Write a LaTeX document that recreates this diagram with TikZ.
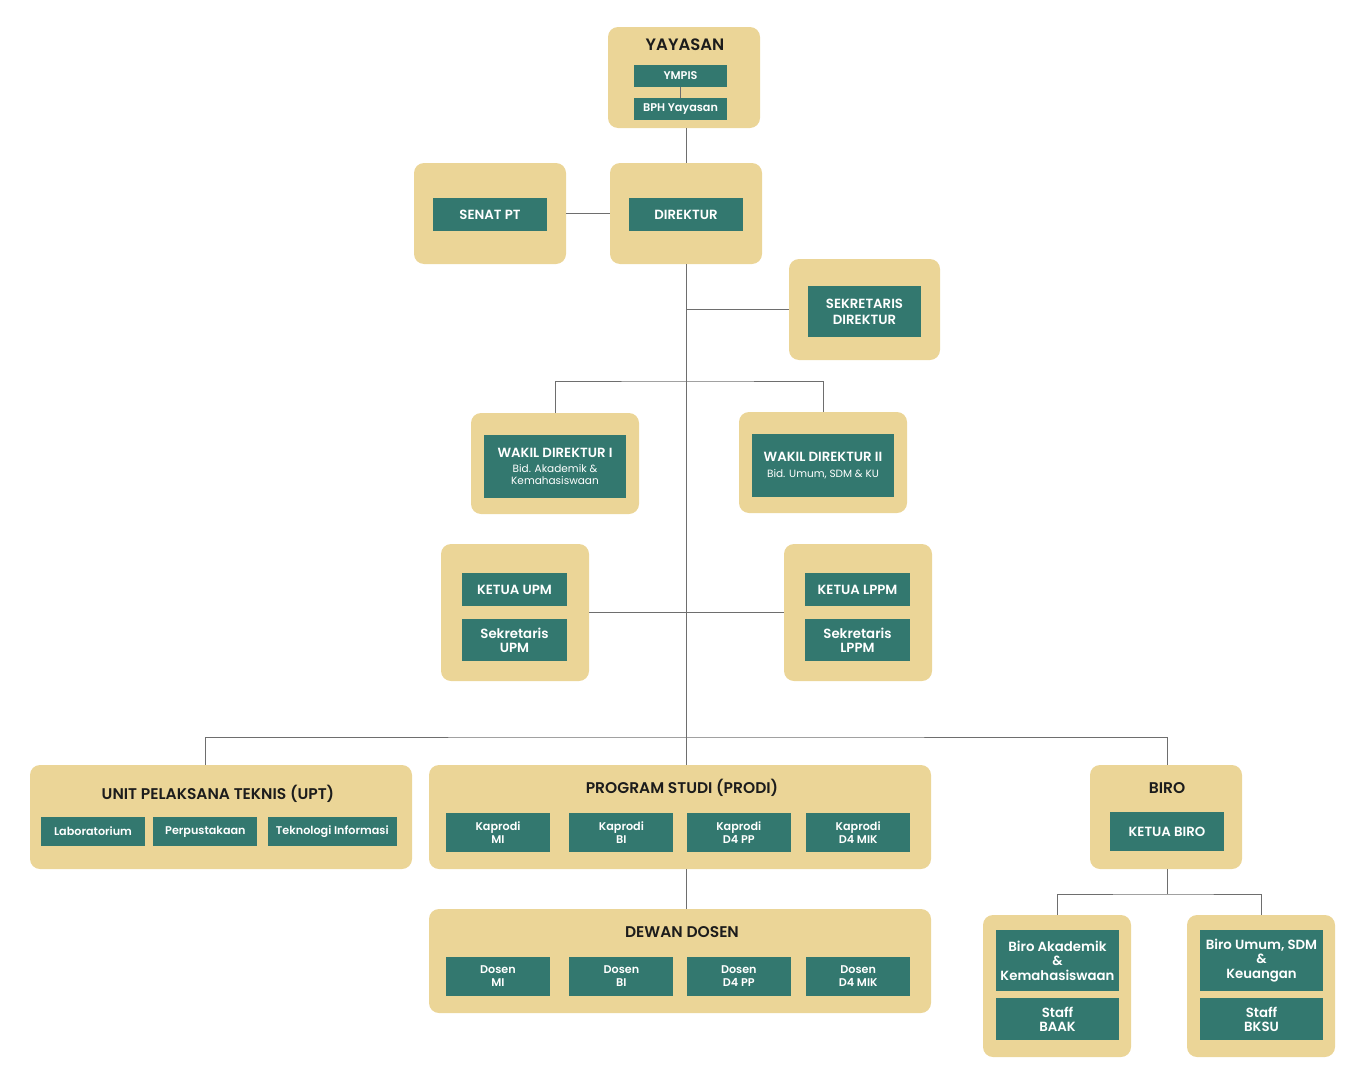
\documentclass[tikz,border=0pt]{standalone}
\usepackage{fontspec}
\setmainfont{Poppins}[BoldFont={Poppins SemiBold}]
\usetikzlibrary{positioning}

\definecolor{panelcol}{HTML}{EBD597}
\definecolor{boxcol}{HTML}{33786F}
\definecolor{linecol}{HTML}{6E6E6E}
\definecolor{titlecol}{HTML}{1C1C1C}

\begin{document}
\begin{tikzpicture}
    [x=1pt, y=1pt,
     panel/.style={rectangle, rounded corners=10pt, fill=panelcol, inner sep=0pt},
     unit/.style={rectangle, fill=boxcol, text=white, inner sep=0pt, align=center,
                  font=\bfseries\fontsize{13.3}{14.5}\selectfont},
     sm/.style={font=\bfseries\fontsize{11.2}{13}\selectfont},
     ttl/.style={text=titlecol, font=\bfseries\fontsize{15.5}{17}\selectfont},
     link/.style={draw=linecol, line width=0.9pt}]

    \useasboundingbox (0,0) rectangle (1366,-1084);

    % panels
    \node [panel, minimum width=152pt, minimum height=101pt] (yay) at (684,-77.5) {};
    \node [panel, minimum width=152pt, minimum height=101pt] (senat) at (490,-213.5) {};
    \node [panel, minimum width=152pt, minimum height=101pt] (dir) at (686,-213.5) {};
    \node [panel, minimum width=151pt, minimum height=101pt] (sek) at (864.5,-309.5) {};
    \node [panel, minimum width=168pt, minimum height=101pt] (wd1) at (555,-463.5) {};
    \node [panel, minimum width=168pt, minimum height=101pt] (wd2) at (823,-462.5) {};
    \node [panel, minimum width=148pt, minimum height=137pt] (upm) at (515,-612.5) {};
    \node [panel, minimum width=148pt, minimum height=137pt] (lppm) at (858,-612.5) {};
    \node [panel, minimum width=382pt, minimum height=104pt] (upt) at (221,-817) {};
    \node [panel, minimum width=502pt, minimum height=104pt] (prodi) at (680,-817) {};
    \node [panel, minimum width=502pt, minimum height=104pt] (dewan) at (680,-961) {};
    \node [panel, minimum width=152pt, minimum height=104pt] (biro) at (1166,-817) {};
    \node [panel, minimum width=148pt, minimum height=142pt] (baak) at (1057,-986) {};
    \node [panel, minimum width=148pt, minimum height=142pt] (bksu) at (1261,-986) {};

    % titles
    \node [ttl, font=\bfseries\fontsize{16.5}{18}\selectfont] (yayt) at (685,-45) {YAYASAN};
    \node [ttl] (uptt) at (218,-794) {UNIT PELAKSANA TEKNIS (UPT)};
    \node [ttl] (prodit) at (682,-788) {PROGRAM STUDI (PRODI)};
    \node [ttl] (dewant) at (682,-932) {DEWAN DOSEN};
    \node [ttl] (birot) at (1167,-788) {BIRO};

    % units
    \node [unit, sm, minimum width=93pt, minimum height=22pt] (ympis) at (680.5,-76) {YMPIS};
    \node [unit, sm, minimum width=93pt, minimum height=22pt, below=11pt of ympis] (bph) {BPH Yayasan};
    \node [unit, minimum width=114pt, minimum height=33pt] (senatu) at (490,-214.5) {SENAT PT};
    \node [unit, minimum width=114pt, minimum height=33pt] (diru) at (686,-214.5) {DIREKTUR};
    \node [unit, minimum width=113pt, minimum height=51pt] (seku) at (864.5,-311.5) {SEKRETARIS\\[1.5pt]DIREKTUR};
    \node [unit, minimum width=142pt, minimum height=63pt] (wd1u) at (555,-466.5) {
	WAKIL DIREKTUR I\\[1pt]
	{\mdseries\fontsize{10.5}{12}\selectfont Bid. Akademik \&}\\[-2.5pt]
	{\mdseries\fontsize{10.5}{12}\selectfont Kemahasiswaan}
    };
    \node [unit, minimum width=142pt, minimum height=63pt] (wd2u) at (823,-465.5) {
	WAKIL DIREKTUR II\\[2pt]
	{\mdseries\fontsize{10.5}{12}\selectfont Bid. Umum, SDM \& KU}
    };
    \node [unit, minimum width=105pt, minimum height=33pt] (upmk) at (514.5,-589.5) {KETUA UPM};
    \node [unit, minimum width=105pt, minimum height=42pt, below=13pt of upmk] (upms) {Sekretaris\\UPM};
    \node [unit, minimum width=105pt, minimum height=33pt] (lppmk) at (857.5,-589.5) {KETUA LPPM};
    \node [unit, minimum width=105pt, minimum height=42pt, below=13pt of lppmk] (lppms) {Sekretaris\\LPPM};

    \node [unit, sm, minimum width=104pt, minimum height=29pt] (lab) at (93,-831.5) {Laboratorium};
    \node [unit, sm, minimum width=104pt, minimum height=29pt, right=8pt of lab] (perpus) {Perpustakaan};
    \node [unit, sm, minimum width=129pt, minimum height=29pt, right=10pt of perpus] (ti) {Teknologi Informasi};

    \node [unit, sm, minimum width=104pt, minimum height=39pt] (kmi) at (498,-832.5) {Kaprodi\\MI};
    \node [unit, sm, minimum width=104pt, minimum height=39pt, right=19pt of kmi] (kbi) {Kaprodi\\BI};
    \node [unit, sm, minimum width=104pt, minimum height=39pt, right=13pt of kbi] (kpp) {Kaprodi\\D4 PP};
    \node [unit, sm, minimum width=104pt, minimum height=39pt, right=15pt of kpp] (kmik) {Kaprodi\\D4 MIK};

    \node [unit, sm, minimum width=104pt, minimum height=39pt] (dmi) at (498,-976.5) {Dosen\\MI};
    \node [unit, sm, minimum width=104pt, minimum height=39pt, right=19pt of dmi] (dbi) {Dosen\\BI};
    \node [unit, sm, minimum width=104pt, minimum height=39pt, right=13pt of dbi] (dpp) {Dosen\\D4 PP};
    \node [unit, sm, minimum width=104pt, minimum height=39pt, right=15pt of dpp] (dmik) {Dosen\\D4 MIK};

    \node [unit, minimum width=114pt, minimum height=39pt] (birok) at (1167,-831.5) {KETUA BIRO};
    \node [unit, minimum width=123pt, minimum height=61pt] (baaku) at (1057.5,-960.5) {Biro Akademik\\\&\\Kemahasiswaan};
    \node [unit, minimum width=123pt, minimum height=42pt, below=7pt of baaku] (baaks) {Staff\\BAAK};
    \node [unit, minimum width=123pt, minimum height=61pt] (bksuu) at (1261.5,-960.5) {Biro Umum, SDM\\\&\\Keuangan};
    \node [unit, minimum width=123pt, minimum height=42pt, below=7pt of bksuu] (bksus) {Staff\\BKSU};

    % connectors
    \coordinate (j1) at (686,-381);
    \coordinate (j2) at (686,-737);
    \coordinate (j3) at (1167,-894);

    \draw [link] (ympis) -- (bph);
    \draw [link] (yay.south -| dir.north) -- (dir.north);
    \draw [link] (senat.east) -- (dir.west);
    \draw [link] (dir.south) -- (dir.south |- prodi.north);
    \draw [link] (sek.west) -- (sek.west -| dir.south);
    \draw [link] (wd1.north) |- (j1) -| (wd2.north);
    \draw [link] (upm.east) -- (lppm.west);
    \draw [link] ([xshift=-16pt] upt.north) |- (j2) -| ([xshift=1pt] biro.north);
    \draw [link] (prodi.south -| dir.south) -- (dewan.north -| dir.south);
    \draw [link] ([xshift=1pt] biro.south) -- (j3);
    \draw [link] (baak.north) |- (j3) -| (bksu.north);
\end{tikzpicture}
\end{document}
